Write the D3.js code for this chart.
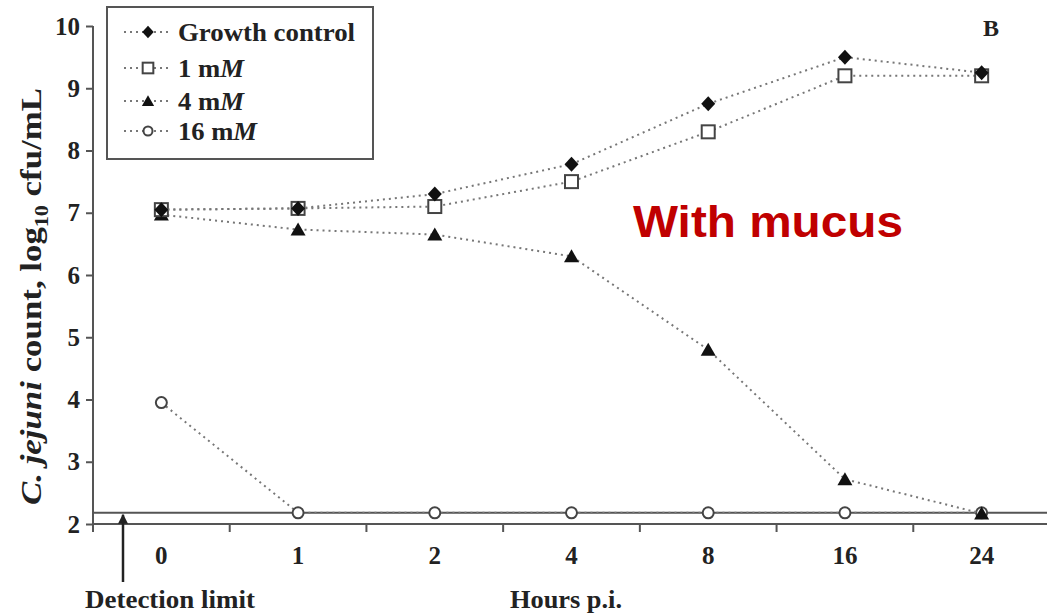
<!DOCTYPE html>
<meta charset="utf-8">
<title>C. jejuni with mucus</title>
<style>
  body { margin: 0; background: #fff; }
  text { font-family: "Liberation Serif", "Times New Roman", serif; font-weight: bold; fill: #222; }
</style>
<body>
<script src="https://cdn.jsdelivr.net/npm/d3@7"></script>
<script>
// hours post inoculation (categorical axis)
var hours = ['0', '1', '2', '4', '8', '16', '24'];
var yTicks = [2, 3, 4, 5, 6, 7, 8, 9, 10];
var detectionLimit = 2.18;

// log10 cfu/mL
var growthControl = [7.05, 7.07, 7.30, 7.78, 8.75, 9.50, 9.25];
var mM1  = [7.05, 7.07, 7.10, 7.50, 8.30, 9.20, 9.20];
var mM4  = [6.97, 6.73, 6.65, 6.30, 4.80, 2.72, 2.17];
var mM16 = [3.95, 2.18, 2.18, 2.18, 2.18, 2.18, 2.18];

var seriesNames = ['Growth control', '1 m', '4 m', '16 m'];
var seriesData = [growthControl, mM1, mM4, mM16];
var seriesSymbol = ['diamond', 'square', 'triangle', 'circle'];

var width = 1047, height = 613;
var axisColor = '#555';

var svg = d3.select('body').append('svg')
    .attr('width', width)
    .attr('height', height);

var x = d3.scaleBand()
    .domain(hours)
    .range([93, 1050]);

var y = d3.scaleLinear()
    .domain([2, 10])
    .range([524, 26]);

// axes========================================================
var xAxis = svg.append('g')
    .attr('transform', 'translate(0,524)')
    .call(d3.axisBottom(x).tickSize(0).tickPadding(22));
xAxis.select('.domain').remove();
xAxis.selectAll('text').style('font-size', '25px').style('font-family', null);

// x ticks sit on band boundaries
var bounds = hours.map(function(h) { return x(h); });
svg.selectAll('.xtick')
    .data(bounds)
  .enter().append('line')
    .attr('x1', function(d) { return d; })
    .attr('x2', function(d) { return d; })
    .attr('y1', 524)
    .attr('y2', 532)
    .style('stroke', axisColor)
    .style('stroke-width', 2);

svg.append('line')
    .attr('x1', 93).attr('x2', width)
    .attr('y1', 524).attr('y2', 524)
    .style('stroke', axisColor).style('stroke-width', 2);

var yAxis = svg.append('g')
    .attr('transform', 'translate(93,0)')
    .call(d3.axisLeft(y).tickValues(yTicks).tickSize(7).tickPadding(6).tickSizeOuter(0));
yAxis.select('.domain').style('stroke', axisColor).style('stroke-width', 2)
    .attr('d', 'M0,' + y(10) + 'V532');
yAxis.selectAll('.tick line').style('stroke', axisColor).style('stroke-width', 2);
yAxis.selectAll('text').style('font-size', '25px').style('font-family', null);

// detection limit line
svg.append('line')
    .attr('x1', 93).attr('x2', width)
    .attr('y1', y(detectionLimit)).attr('y2', y(detectionLimit))
    .style('stroke', axisColor).style('stroke-width', 2);

// arrow
svg.append('defs').append('marker')
    .attr('id', 'arrowhead')
    .attr('viewBox', '0 0 10 10')
    .attr('refX', 9).attr('refY', 5)
    .attr('markerWidth', 4).attr('markerHeight', 5)
    .attr('orient', 'auto')
  .append('path')
    .attr('d', 'M0,0L10,5L0,10z')
    .style('fill', '#222');
svg.append('line')
    .attr('x1', 123).attr('x2', 123)
    .attr('y1', 582).attr('y2', y(detectionLimit) + 2)
    .style('stroke', '#222').style('stroke-width', 2.5)
    .attr('marker-end', 'url(#arrowhead)');

svg.append('text')
    .attr('x', 85).attr('y', 608)
    .attr('textLength', 170).attr('lengthAdjust', 'spacingAndGlyphs')
    .style('font-size', '25px')
    .text('Detection limit');

svg.append('text')
    .attr('x', 510).attr('y', 608)
    .attr('textLength', 112).attr('lengthAdjust', 'spacingAndGlyphs')
    .style('font-size', '25px')
    .text('Hours p.i.');

// y label
var yl = svg.append('text')
    .attr('transform', 'translate(41,505) rotate(-90)')
    .attr('textLength', 417).attr('lengthAdjust', 'spacingAndGlyphs')
    .style('font-size', '30px');
yl.append('tspan').style('font-style', 'italic').text('C. jejuni');
yl.append('tspan').text(' count, log');
yl.append('tspan').attr('dy', 7).style('font-size', '19px').text('10');
yl.append('tspan').attr('dy', -7).text(' cfu/mL');

// lines + markers=============================================
var line = d3.line()
    .x(function(d, i) { return x(hours[i]) + x.bandwidth() / 2; })
    .y(function(d) { return y(d); });

function drawMarker(g, type, cx, cy, k) {
  var sel;
  if (type === 'diamond') {
    sel = g.append('path')
      .attr('d', 'M0,-7.5L7,0L0,7.5L-7,0Z')
      .style('fill', '#111');
  } else if (type === 'square') {
    sel = g.append('rect')
      .attr('x', -6.5).attr('y', -6.5)
      .attr('width', 13).attr('height', 13)
      .style('fill', '#fff').style('stroke', '#444').style('stroke-width', 2 / k);
  } else if (type === 'triangle') {
    sel = g.append('path')
      .attr('d', 'M0,-7L7.5,6L-7.5,6Z')
      .style('fill', '#111');
  } else {
    sel = g.append('circle')
      .attr('r', 5.5)
      .style('fill', '#fff').style('stroke', '#444').style('stroke-width', 2 / k);
  }
  sel.attr('transform', 'translate(' + cx + ',' + cy + ') scale(' + k + ')');
}

var order = [3, 2, 1, 0];
order.forEach(function(s) {
  var g = svg.append('g');
  g.append('path')
    .datum(seriesData[s])
    .attr('d', line)
    .style('fill', 'none')
    .style('stroke', '#777')
    .style('stroke-width', 2)
    .style('stroke-dasharray', '2,4');
  seriesData[s].forEach(function(v, i) {
    drawMarker(g, seriesSymbol[s], x(hours[i]) + x.bandwidth() / 2, y(v), 1);
  });
});

// legend======================================================
svg.append('rect')
    .attr('x', 107).attr('y', 7)
    .attr('width', 266).attr('height', 152)
    .style('fill', '#fff')
    .style('stroke', axisColor).style('stroke-width', 2);

var legendY = [32, 68, 101, 131];
var legendW = [177, 66, 66, 79];
seriesNames.forEach(function(name, i) {
  var g = svg.append('g');
  g.append('line')
    .attr('x1', 124).attr('x2', 172)
    .attr('y1', legendY[i]).attr('y2', legendY[i])
    .style('stroke', '#777').style('stroke-width', 2)
    .style('stroke-dasharray', '2,4');
  drawMarker(g, seriesSymbol[i], 148, legendY[i], 0.82);
  var t = g.append('text')
    .attr('x', 178).attr('y', legendY[i] + 9)
    .attr('textLength', legendW[i]).attr('lengthAdjust', 'spacingAndGlyphs')
    .style('font-size', '26px')
    .text(name);
  if (i > 0) t.append('tspan').style('font-style', 'italic').text('M');
});

svg.append('text')
    .attr('x', 991).attr('y', 36)
    .attr('text-anchor', 'middle')
    .style('font-size', '24px')
    .text('B');

svg.append('text')
    .attr('x', 633).attr('y', 237)
    .attr('textLength', 270).attr('lengthAdjust', 'spacingAndGlyphs')
    .style('font-family', '"Liberation Sans", Arial, sans-serif')
    .style('font-size', '45px')
    .style('fill', '#c00000')
    .text('With mucus');
</script>
</body>
